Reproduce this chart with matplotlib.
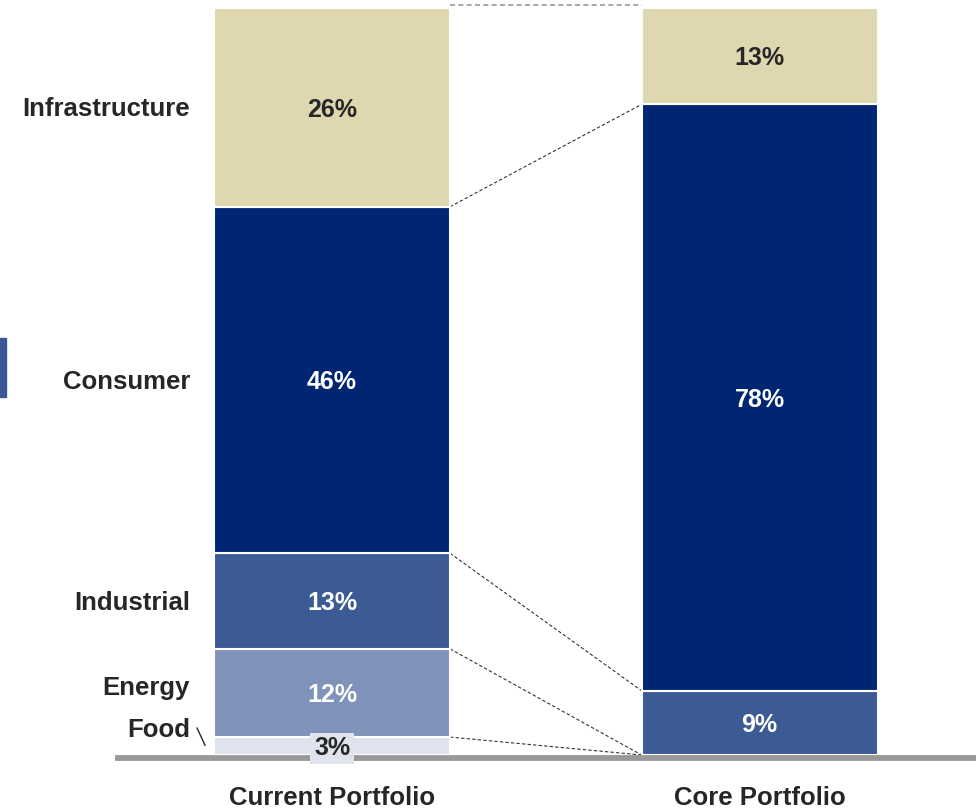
import matplotlib
matplotlib.use("Agg")
import matplotlib.pyplot as plt
import numpy as np
from matplotlib.patches import Rectangle

# data (segment heights, labels as printed)
sectors = ["Food", "Energy", "Industrial", "Consumer", "Infrastructure"]
portfolios = ["Current Portfolio", "Core Portfolio"]
current = [2.4, 11.8, 12.8, 46.4, 26.6]
core = [0, 0, 8.6, 78.5, 12.9]
current_labels = ["3%", "12%", "13%", "46%", "26%"]
core_labels = ["", "", "9%", "78%", "13%"]
colors = ["#DEE3ED", "#7F92B9", "#3C5A94", "#002673", "#DFD7AF"]
text_colors = ["#262626", "white", "white", "white", "#262626"]

plt.rcParams['font.family'] = ['Liberation Sans', 'DejaVu Sans']
dark = "#262626"

fig = plt.figure(figsize=(9.76, 8.09), dpi=100)
ax = fig.add_axes([118/976, 54/809, 858/976, 747/809])
ax.set_xlim(-0.5006, 1.506)
ax.set_ylim(0, 100)
ax.axis("off")

w = 0.552
x = np.arange(len(portfolios))
data = np.array([current, core])
labels = [current_labels, core_labels]
bottoms = np.zeros(2)
for i, s in enumerate(sectors):
    vals = data[:, i]
    ax.bar(x, vals, width=w, bottom=bottoms, color=colors[i],
           edgecolor="white", linewidth=1.5, zorder=2)
    for j in range(2):
        v = vals[j]
        if v <= 0:
            continue
        yc = bottoms[j] + v / 2 - 0.3
        if v < 5:
            ax.text(x[j], yc, labels[j][i], ha="center", va="center",
                    fontsize=18, fontweight="bold", color=text_colors[i], zorder=5,
                    bbox=dict(boxstyle="square,pad=0.15", fc=colors[i], ec="none"))
        else:
            ax.text(x[j], yc, labels[j][i], ha="center", va="center",
                    fontsize=18, fontweight="bold", color=text_colors[i], zorder=5)
    bottoms += vals

# connector lines between cumulative boundaries
cum_cur = np.cumsum(current)
cum_core = np.cumsum(core)
for k in range(len(sectors) - 1):
    ax.plot([x[0] + w/2, x[1] - w/2], [cum_cur[k], cum_core[k]],
            color="#333333", lw=0.8, ls=(0, (3, 2)), zorder=1)
ax.plot([x[0] + w/2, x[1] - w/2], [100.4, 100.4],
        color="#999999", lw=1.2, ls=(0, (3, 2)), zorder=1, clip_on=False)

# baseline
ax.axhline(-0.35, color="#999999", lw=4.2, zorder=3, clip_on=False)

# sector labels on the left
lab_pos = {"Infrastructure": 86.5, "Consumer": 49.9, "Industrial": 20.4,
           "Energy": 9.0, "Food": 3.4}
for s in sectors:
    ax.text(-0.332, lab_pos[s], s, ha="right", va="center",
            fontsize=18.5, fontweight="bold", color=dark)
ax.plot([-0.3156, -0.297], [3.6, 1.3], color=dark, lw=1)

for j, p in enumerate(portfolios):
    ax.text(x[j], -5.7, p, ha="center", va="center",
            fontsize=18.5, fontweight="bold", color=dark, clip_on=False)

fig.patches.append(Rectangle((0, (809-397)/809), 6/976, 59/809,
                             transform=fig.transFigure, color="#3A5795"))

fig.savefig("out.png", dpi=100)
